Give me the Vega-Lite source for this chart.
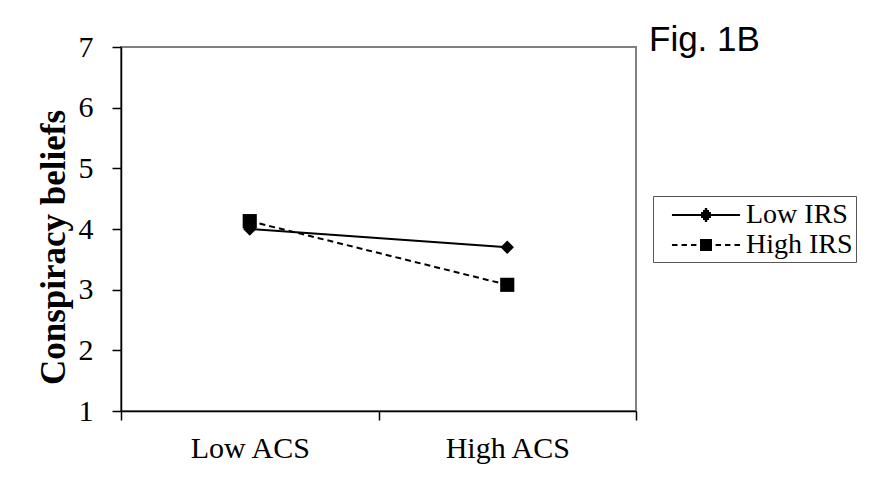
{
  "$schema": "https://vega.github.io/schema/vega-lite/v6.json",
  "autosize": {"type": "none"},
  "width": 515,
  "height": 364,
  "padding": {"left": 121, "top": 47, "right": 238, "bottom": 67},
  "background": "white",
  "title": {
    "text": "Fig. 1B",
    "anchor": "start",
    "frame": "group",
    "font": "Liberation Sans",
    "fontSize": 35,
    "fontWeight": "normal",
    "color": "black",
    "baseline": "alphabetic",
    "offset": 0,
    "dx": 528,
    "dy": 54
  },
  "config": {
    "view": {"stroke": "#808080", "strokeWidth": 2},
    "axis": {"grid": false}
  },
  "data": {
    "values": [
      {"acs": "Low ACS", "series": "Low IRS", "value": 4.0},
      {"acs": "High ACS", "series": "Low IRS", "value": 3.70},
      {"acs": "Low ACS", "series": "High IRS", "value": 4.13},
      {"acs": "High ACS", "series": "High IRS", "value": 3.08}
    ]
  },
  "encoding": {
    "x": {
      "field": "acs",
      "type": "nominal",
      "sort": ["Low ACS", "High ACS"],
      "scale": {"paddingInner": 0, "paddingOuter": 0},
      "axis": {
        "title": null,
        "labelAngle": 0,
        "labelFont": "Liberation Serif",
        "labelFontSize": 30,
        "labelColor": "black",
        "labelPadding": 13,
        "tickBand": "extent",
        "tickSize": 9,
        "tickColor": "black",
        "tickWidth": 1.5,
        "domainColor": "black",
        "domainWidth": 1.5
      }
    },
    "y": {
      "field": "value",
      "type": "quantitative",
      "scale": {"domain": [1, 7], "nice": false, "zero": false},
      "axis": {
        "values": [1, 2, 3, 4, 5, 6, 7],
        "title": "Conspiracy beliefs",
        "titleFont": "Liberation Serif",
        "titleFontSize": 35,
        "titleFontWeight": "bold",
        "titleColor": "black",
        "titleX": -68,
        "titleY": 200,
        "titleBaseline": "middle",
        "titleAlign": "center",
        "titleAngle": 270,
        "labelFont": "Liberation Serif",
        "labelFontSize": 30,
        "labelColor": "black",
        "labelPadding": 19,
        "tickSize": 9,
        "tickColor": "black",
        "tickWidth": 1.5,
        "domainColor": "black",
        "domainWidth": 1.5
      }
    }
  },
  "layer": [
    {
      "transform": [{"filter": "datum.series == 'Low IRS'"}],
      "mark": {"type": "line", "color": "black", "strokeWidth": 2},
      "encoding": {}
    },
    {
      "transform": [{"filter": "datum.series == 'High IRS'"}],
      "mark": {"type": "line", "color": "black", "strokeWidth": 2, "strokeDash": [6, 4]},
      "encoding": {}
    },
    {
      "transform": [{"filter": "datum.series == 'Low IRS'"}],
      "mark": {"type": "point", "shape": "diamond", "filled": true, "color": "black", "size": 180, "opacity": 1}
    },
    {
      "transform": [{"filter": "datum.series == 'High IRS'"}],
      "mark": {"type": "point", "shape": "square", "filled": true, "color": "black", "size": 200, "opacity": 1}
    },
    {
      "mark": {"type": "point", "filled": false, "color": "black", "strokeWidth": 2, "opacity": 0},
      "encoding": {
        "shape": {
          "field": "series",
          "type": "nominal",
          "scale": {
            "domain": ["Low IRS", "High IRS"],
            "range": [
              "M-2.27,0H2.27M-0.08,-0.4H0.08M-0.2,-0.267H0.2M-0.33,-0.133H0.33M-0.45,0H0.45M-0.33,0.133H0.33M-0.2,0.267H0.2M-0.08,0.4H0.08",
              "M-2.27,0H-1.9M-1.63,0H-1.27M-1.0,0H-0.64M0.64,0H1.0M1.27,0H1.63M1.9,0H2.27M-0.4,-0.33H0.4M-0.4,-0.2H0.4M-0.4,-0.067H0.4M-0.4,0.067H0.4M-0.4,0.2H0.4M-0.4,0.33H0.4"
            ]
          },
          "legend": {
            "title": "\u2003",
            "titleOrient": "right",
            "titleFontSize": 17,
            "titlePadding": 0,
            "orient": "none",
            "legendX": 532,
            "legendY": 149,
            "strokeColor": "#555555",
            "padding": 3,
            "symbolOffset": 34,
            "symbolSize": 900,
            "symbolOpacity": 1,
            "symbolStrokeColor": "black",
            "symbolStrokeWidth": 2,
            "labelOffset": 24,
            "labelFont": "Liberation Serif",
            "labelFontSize": 28,
            "labelColor": "black",
            "rowPadding": 0
          }
        }
      }
    }
  ]
}
